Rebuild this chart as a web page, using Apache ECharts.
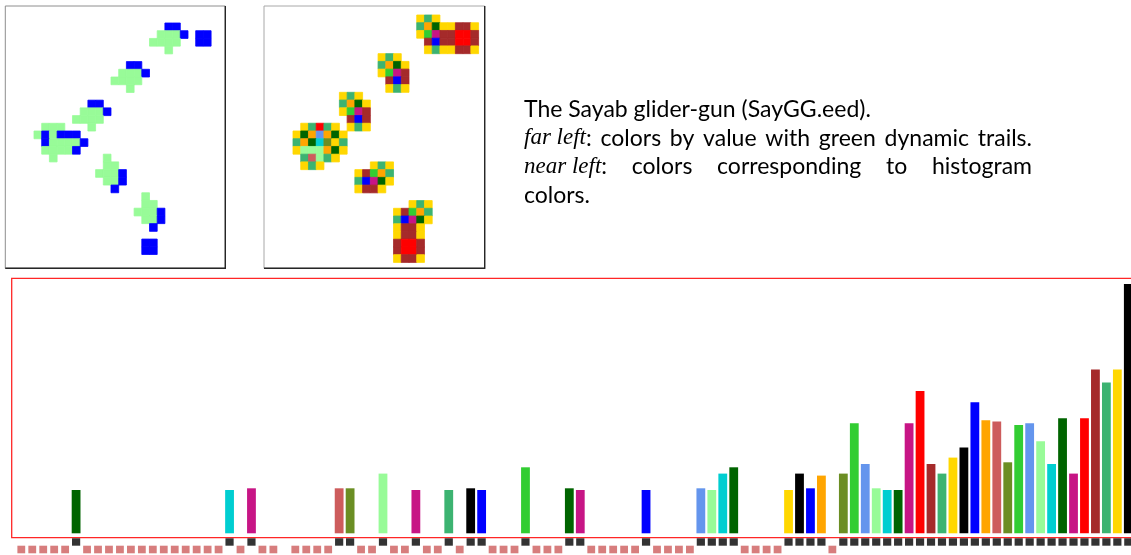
<!DOCTYPE html>
<html>
<head>
<meta charset="utf-8">
<script src="https://cdn.jsdelivr.net/npm/echarts@6/dist/echarts.min.js"></script>
<style>
  html, body { margin: 0; padding: 0; background: #fff; }
  #chart { width: 1131px; height: 555px; }
</style>
</head>
<body>
<div id="chart"></div>
<script>
// ---- Histogram: frequency of each neighbourhood lookup slot ----
const slotCount = 102;
const histValues = [
  0, 0, 0, 0, 0, 43.3, 0, 0, 0, 0,
  0, 0, 0, 0, 0, 0, 0, 0, 0, 43.3,
  0, 45, 0, 0, 0, 0, 0, 0, 0, 45,
  45, 0, 0, 59.7, 0, 0, 43.3, 0, 0, 43.3,
  0, 45, 43.3, 0, 0, 0, 66, 0, 0, 0,
  45, 43.3, 0, 0, 0, 0, 0, 43.3, 0, 0,
  0, 0, 45, 43.3, 59.7, 66, 0, 0, 0, 0,
  43.3, 59.7, 45, 57.7, 0, 59.7, 110, 69.3, 45, 43.3,
  43.3, 110, 142.3, 69.3, 59.7, 75.7, 85.7, 131, 113, 111.7,
  71, 108.3, 110, 92, 69.3, 115, 59.7, 115, 163.7, 150.7,
  163.7, 249.3
];
// slot colour key, repeating every 15 slots
const slotColors = [
  'olivedrab', 'limegreen', 'cornflowerblue', 'palegreen', 'darkturquoise',
  'darkgreen', 'mediumvioletred', 'red', 'brown', 'mediumseagreen',
  'gold', 'black', 'blue', 'orange', 'indianred'
];
// slots that carry no marker in the strip under the histogram
const unmarkedSlots = [24];

// ---- Lattice snapshots, stored as row runs: [row, firstCol, lastCol, colour] ----
// far left: colours by value, with green dynamic trails
const trailRuns = [
  [0, 17, 18, 'blue'],
  [1, 16, 18, 'palegreen'], [1, 19, 19, 'blue'], [1, 21, 22, 'blue'],
  [2, 15, 18, 'palegreen'], [2, 21, 22, 'blue'],
  [3, 17, 17, 'palegreen'],
  [5, 12, 13, 'blue'],
  [6, 11, 13, 'palegreen'], [6, 14, 14, 'blue'],
  [7, 10, 13, 'palegreen'],
  [8, 12, 12, 'palegreen'],
  [10, 7, 8, 'blue'],
  [11, 6, 8, 'palegreen'], [11, 9, 9, 'blue'],
  [12, 5, 8, 'palegreen'],
  [13, 1, 3, 'palegreen'], [13, 7, 7, 'palegreen'],
  [14, 0, 0, 'palegreen'], [14, 1, 1, 'blue'], [14, 2, 2, 'palegreen'], [14, 3, 5, 'blue'],
  [15, 1, 1, 'blue'], [15, 2, 5, 'palegreen'], [15, 6, 6, 'blue'],
  [16, 1, 4, 'palegreen'], [16, 5, 5, 'blue'],
  [17, 2, 2, 'palegreen'], [17, 9, 9, 'palegreen'],
  [18, 9, 10, 'palegreen'],
  [19, 8, 10, 'palegreen'], [19, 11, 11, 'blue'],
  [20, 9, 10, 'palegreen'], [20, 11, 11, 'blue'],
  [21, 10, 10, 'blue'],
  [22, 14, 14, 'palegreen'],
  [23, 14, 15, 'palegreen'],
  [24, 13, 15, 'palegreen'], [24, 16, 16, 'blue'],
  [25, 14, 15, 'palegreen'], [25, 16, 16, 'blue'],
  [26, 15, 15, 'blue'],
  [28, 14, 15, 'blue'],
  [29, 14, 15, 'blue']
];
// near left: colours of the lookup slot used by each cell
const lookupRuns = [
  [0, 16, 16, 'gold'], [0, 17, 17, 'mediumseagreen'], [0, 18, 18, 'gold'],
  [1, 16, 16, 'mediumseagreen'], [1, 17, 17, 'orange'], [1, 18, 18, 'darkgreen'], [1, 19, 20, 'gold'], [1, 21, 22, 'brown'], [1, 23, 23, 'gold'],
  [2, 16, 16, 'gold'], [2, 17, 17, 'limegreen'], [2, 18, 18, 'mediumvioletred'], [2, 19, 20, 'brown'], [2, 21, 22, 'red'], [2, 23, 23, 'brown'],
  [3, 17, 17, 'brown'], [3, 18, 18, 'blue'], [3, 19, 20, 'brown'], [3, 21, 22, 'red'], [3, 23, 23, 'brown'],
  [4, 17, 17, 'gold'], [4, 18, 18, 'mediumseagreen'], [4, 19, 20, 'gold'], [4, 21, 22, 'brown'], [4, 23, 23, 'gold'],

  [5, 11, 11, 'gold'], [5, 12, 12, 'mediumseagreen'], [5, 13, 13, 'gold'],
  [6, 11, 11, 'mediumseagreen'], [6, 12, 12, 'orange'], [6, 13, 13, 'darkgreen'], [6, 14, 14, 'gold'],
  [7, 11, 11, 'gold'], [7, 12, 12, 'limegreen'], [7, 13, 13, 'mediumvioletred'], [7, 14, 14, 'brown'],
  [8, 12, 12, 'brown'], [8, 13, 13, 'blue'], [8, 14, 14, 'brown'],
  [9, 12, 12, 'gold'], [9, 13, 13, 'mediumseagreen'], [9, 14, 14, 'gold'],

  [10, 6, 6, 'gold'], [10, 7, 7, 'mediumseagreen'], [10, 8, 8, 'gold'],
  [11, 6, 6, 'mediumseagreen'], [11, 7, 7, 'orange'], [11, 8, 8, 'darkgreen'], [11, 9, 9, 'gold'],
  [12, 6, 6, 'gold'], [12, 7, 7, 'limegreen'], [12, 8, 8, 'mediumvioletred'], [12, 9, 9, 'brown'],
  [13, 7, 7, 'brown'], [13, 8, 8, 'blue'], [13, 9, 9, 'brown'],
  [14, 7, 7, 'gold'], [14, 8, 8, 'mediumseagreen'], [14, 9, 9, 'gold'],

  [14, 1, 1, 'gold'], [14, 2, 2, 'mediumseagreen'], [14, 3, 3, 'red'], [14, 4, 4, 'mediumseagreen'], [14, 5, 5, 'gold'],
  [15, 0, 0, 'gold'], [15, 1, 1, 'darkgreen'], [15, 2, 2, 'orange'], [15, 3, 3, 'cornflowerblue'], [15, 4, 4, 'orange'], [15, 5, 5, 'darkgreen'], [15, 6, 6, 'gold'],
  [16, 0, 0, 'mediumseagreen'], [16, 1, 1, 'orange'], [16, 2, 2, 'darkgreen'], [16, 3, 3, 'darkturquoise'], [16, 4, 4, 'olivedrab'], [16, 5, 5, 'gold'], [16, 6, 6, 'mediumseagreen'],
  [17, 0, 0, 'gold'], [17, 1, 3, 'palegreen'], [17, 4, 4, 'orange'], [17, 5, 5, 'darkgreen'], [17, 6, 6, 'gold'],
  [18, 1, 1, 'mediumseagreen'], [18, 2, 2, 'indianred'], [18, 3, 3, 'palegreen'], [18, 4, 4, 'mediumseagreen'], [18, 5, 5, 'gold'],
  [19, 1, 1, 'gold'], [19, 2, 2, 'mediumseagreen'], [19, 3, 3, 'gold'],

  [19, 10, 10, 'gold'], [19, 11, 11, 'mediumseagreen'], [19, 12, 12, 'gold'],
  [20, 8, 8, 'gold'], [20, 9, 9, 'brown'], [20, 10, 10, 'limegreen'], [20, 11, 11, 'orange'], [20, 12, 12, 'mediumseagreen'],
  [21, 8, 8, 'mediumseagreen'], [21, 9, 9, 'blue'], [21, 10, 10, 'mediumvioletred'], [21, 11, 11, 'darkgreen'], [21, 12, 12, 'gold'],
  [22, 8, 8, 'gold'], [22, 9, 10, 'brown'], [22, 11, 11, 'gold'],

  [24, 15, 15, 'gold'], [24, 16, 16, 'mediumseagreen'], [24, 17, 17, 'gold'],
  [25, 13, 13, 'gold'], [25, 14, 14, 'brown'], [25, 15, 15, 'limegreen'], [25, 16, 16, 'orange'], [25, 17, 17, 'mediumseagreen'],
  [26, 13, 13, 'mediumseagreen'], [26, 14, 14, 'blue'], [26, 15, 15, 'mediumvioletred'], [26, 16, 16, 'darkgreen'], [26, 17, 17, 'gold'],
  [27, 13, 13, 'gold'], [27, 14, 15, 'brown'], [27, 16, 16, 'gold'],
  [28, 13, 13, 'gold'], [28, 14, 15, 'brown'], [28, 16, 16, 'gold'],
  [29, 13, 13, 'brown'], [29, 14, 15, 'red'], [29, 16, 16, 'brown'],
  [30, 13, 13, 'brown'], [30, 14, 15, 'red'], [30, 16, 16, 'brown'],
  [31, 13, 13, 'gold'], [31, 14, 15, 'brown'], [31, 16, 16, 'gold']
];

// ---- Caption; *...* marks math-italic words ----
const captionLines = [
  { words: ['The Sayab glider-gun (SayGG.eed).'] },
  { words: ['*far left*:', 'colors', 'by', 'value', 'with', 'green', 'dynamic', 'trails.'], justify: true },
  { words: ['*near left*:', 'colors', 'corresponding', 'to', 'histogram'], justify: true },
  { words: ['colors.'] }
];

// ------------------------------------------------------------------
const HEX = {
  olivedrab: '#6B8E23', limegreen: '#32CD32', cornflowerblue: '#6495ED',
  palegreen: '#98FB98', darkturquoise: '#00CED1', darkgreen: '#006400',
  mediumvioletred: '#C71585', red: '#FF0000', brown: '#A52A2A',
  mediumseagreen: '#3CB371', gold: '#FFD700', black: '#000000',
  blue: '#0000FF', orange: '#FFA500', indianred: '#CD5C5C'
};

function expandRuns(runs) {
  const cells = [];
  runs.forEach(function (run) {
    for (let c = run[1]; c <= run[2]; c++) cells.push([c, run[0], run[3]]);
  });
  return cells;
}
const trailCells = expandRuns(trailRuns);
const lookupCells = expandRuns(lookupRuns);

function cellRenderer(cells) {
  return function (params, api) {
    const c = api.value(0), r = api.value(1);
    const p0 = api.coord([c, r]);
    const p1 = api.coord([c + 1, r + 1]);
    const col = HEX[cells[params.dataIndex][2]];
    return {
      type: 'rect',
      shape: {
        x: Math.min(p0[0], p1[0]), y: Math.min(p0[1], p1[1]),
        width: Math.abs(p1[0] - p0[0]), height: Math.abs(p1[1] - p0[1])
      },
      style: { fill: col, stroke: col, lineWidth: 0.8 }
    };
  };
}

// histogram bars and the marker strip below them
const barData = [];
const filledMarks = [];
const emptyMarks = [];
for (let i = 0; i < slotCount; i++) {
  const v = histValues[i];
  if (v > 0) barData.push([i, v]);
  if (unmarkedSlots.indexOf(i) >= 0) continue;
  if (v > 0) filledMarks.push([i, 4.3]);
  else emptyMarks.push([i, 11.8]);
}

// ---- caption layout ----
const SANS = 'Lato, "Liberation Sans", sans-serif';
const SERIF = '"Liberation Serif", "Times New Roman", serif';
const measureCtx = document.createElement('canvas').getContext('2d');
function runsOf(word) {
  return word.split('*').map(function (t, k) { return { text: t, italic: k % 2 === 1 }; })
             .filter(function (r) { return r.text.length > 0; });
}
function fontOf(run, size) {
  return (run.italic ? 'italic ' : '') + size + 'px ' + (run.italic ? SERIF : SANS);
}
function runWidth(run, size) {
  measureCtx.font = fontOf(run, size);
  return measureCtx.measureText(run.text).width;
}
function wordWidth(word, size) {
  return runsOf(word).reduce(function (s, r) { return s + runWidth(r, size); }, 0);
}
const captionLeft = 524, captionWidth = 508, titleWidth = 347;
const captionSize = 100 * titleWidth / wordWidth(captionLines[0].words[0], 100);
const baselines = [116.6, 145.5, 174.4, 203.3];
// distance from the 'middle' text baseline down to the alphabetic baseline
measureCtx.font = fontOf({ italic: false }, captionSize);
measureCtx.textBaseline = 'middle';
const midToBase = measureCtx.measureText('H').actualBoundingBoxDescent;
measureCtx.textBaseline = 'alphabetic';

const captionGraphics = [];
captionLines.forEach(function (line, li) {
  const y = baselines[li] - midToBase;
  const widths = line.words.map(function (w) { return wordWidth(w, captionSize); });
  const total = widths.reduce(function (a, b) { return a + b; }, 0);
  const gap = line.justify ? (captionWidth - total) / (line.words.length - 1) : 0;
  let x = captionLeft;
  line.words.forEach(function (word) {
    runsOf(word).forEach(function (run) {
      captionGraphics.push({
        type: 'text', x: x, y: y, silent: true,
        style: {
          text: run.text, fill: '#000',
          fontSize: captionSize,
          fontFamily: run.italic ? SERIF : SANS,
          fontStyle: run.italic ? 'italic' : 'normal',
          align: 'left', verticalAlign: 'middle'
        }
      });
      x += runWidth(run, captionSize);
    });
    x += gap;
  });
});

// panel frames: light top/left edges, dark right/bottom edges
function panelShade(l, t, w, h) {
  return {
    type: 'polyline', silent: true,
    shape: { points: [[l + w, t], [l + w, t + h], [l, t + h]] },
    style: { stroke: '#262626', lineWidth: 1.4, fill: null }
  };
}

const hidden = { show: false };
const chart = echarts.init(document.getElementById('chart'), null, { renderer: 'canvas' });
chart.setOption({
  animation: false,
  backgroundColor: '#ffffff',
  grid: [
    { left: 11.7, top: 278.3, width: 1126.2, height: 259.4, show: true, outerBoundsMode: 'none',
      containLabel: false, borderColor: '#ff2626', borderWidth: 1.3, backgroundColor: 'transparent' },
    { left: 11.7, top: 537.7, width: 1126.2, height: 17.3, outerBoundsMode: 'none', containLabel: false },
    { left: 5.3, top: 6, width: 220, height: 262.3, show: true, outerBoundsMode: 'none',
      borderColor: '#8e8e8e', borderWidth: 1, backgroundColor: 'transparent' },
    { left: 264, top: 6, width: 220.7, height: 262.3, show: true, outerBoundsMode: 'none',
      borderColor: '#a8a8a8', borderWidth: 1, backgroundColor: 'transparent' }
  ],
  xAxis: [
    Object.assign({ type: 'value', gridIndex: 0, min: -0.875, max: 101.875 }, hidden),
    Object.assign({ type: 'value', gridIndex: 1, min: -0.875, max: 101.875 }, hidden),
    Object.assign({ type: 'value', gridIndex: 2, min: -3.727, max: 24.844 }, hidden),
    Object.assign({ type: 'value', gridIndex: 3, min: -3.75, max: 24.79 }, hidden)
  ],
  yAxis: [
    Object.assign({ type: 'value', gridIndex: 0, min: -4.4, max: 255 }, hidden),
    Object.assign({ type: 'value', gridIndex: 1, min: 0, max: 17.3, inverse: true }, hidden),
    Object.assign({ type: 'value', gridIndex: 2, min: -2.203, max: 31.79, inverse: true }, hidden),
    Object.assign({ type: 'value', gridIndex: 3, min: -1.164, max: 32.76, inverse: true }, hidden)
  ],
  series: [
    {
      type: 'bar', xAxisIndex: 0, yAxisIndex: 0,
      data: barData, barWidth: 8.8,
      itemStyle: {
        color: function (p) { return HEX[slotColors[p.value[0] % slotColors.length]]; }
      }
    },
    {
      type: 'scatter', xAxisIndex: 1, yAxisIndex: 1,
      data: filledMarks, symbol: 'rect', symbolSize: [8.2, 7.4],
      itemStyle: { color: '#000000' }
    },
    {
      type: 'scatter', xAxisIndex: 1, yAxisIndex: 1,
      data: emptyMarks, symbol: 'rect', symbolSize: [7.8, 7.6],
      itemStyle: { color: HEX.indianred }
    },
    {
      type: 'custom', xAxisIndex: 2, yAxisIndex: 2,
      data: trailCells.map(function (c) { return [c[0], c[1]]; }),
      renderItem: cellRenderer(trailCells)
    },
    {
      type: 'custom', xAxisIndex: 3, yAxisIndex: 3,
      data: lookupCells.map(function (c) { return [c[0], c[1]]; }),
      renderItem: cellRenderer(lookupCells)
    }
  ],
  graphic: captionGraphics.concat([
    panelShade(5.3, 6, 220, 262.3),
    panelShade(264, 6, 220.7, 262.3)
  ])
});
</script>
</body>
</html>
